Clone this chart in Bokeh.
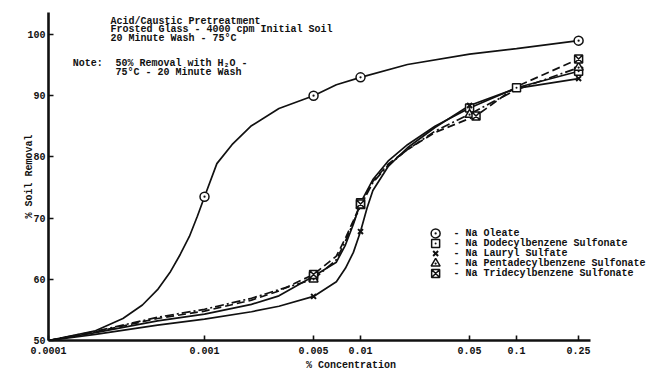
from bokeh.plotting import figure
from bokeh.models import Range1d, FixedTicker, CustomJSTickFormatter, Label
from bokeh.core.properties import value
from bokeh.embed import file_html
from bokeh.resources import INLINE

# ---------------- data ----------------
x_ticks = [0.0001, 0.001, 0.005, 0.01, 0.05, 0.1, 0.25]
x_tick_labels = ["0.0001", "0.001", "0.005", "0.01", "0.05", "0.1", "0.25"]
y_ticks = [50, 60, 70, 80, 90, 100]

series_names = [
    "Na Oleate",
    "Na Dodecylbenzene Sulfonate",
    "Na Lauryl Sulfate",
    "Na Pentadecylbenzene Sulfonate",
    "Na Tridecylbenzene Sulfonate",
]

# measured points (markers)
oleate_x = [0.001, 0.005, 0.01, 0.25]
oleate_y = [73.5, 90.0, 93.0, 99.0]
dodecyl_x = [0.005, 0.01, 0.05, 0.1, 0.25]
dodecyl_y = [60.5, 72.5, 88.0, 91.3, 94.0]
lauryl_x = [0.005, 0.01, 0.05, 0.25]
lauryl_y = [57.2, 67.8, 88.4, 92.8]
penta_x = [0.005, 0.01, 0.05, 0.25]
penta_y = [60.0, 72.0, 86.9, 94.6]
tridec_x = [0.005, 0.01, 0.055, 0.25]
tridec_y = [60.8, 72.3, 86.7, 96.0]

# hand-drawn curves
oleate_cx = [0.0001, 0.0002, 0.0003, 0.0004, 0.0005, 0.0006, 0.0007, 0.0008, 0.0009, 0.001,
             0.0012, 0.0015, 0.002, 0.003, 0.005, 0.007, 0.01, 0.02, 0.05, 0.1, 0.25]
oleate_cy = [50.0, 51.6, 53.6, 55.8, 58.3, 61.1, 64.1, 67.0, 70.3, 73.5,
             78.9, 82.0, 85.1, 87.9, 90.0, 91.8, 93.0, 95.1, 96.8, 97.7, 99.0]

dodecyl_cx = [0.0001, 0.0002, 0.0005, 0.001, 0.002, 0.003, 0.005, 0.007, 0.008, 0.009, 0.01,
              0.012, 0.015, 0.02, 0.03, 0.05, 0.1, 0.25]
dodecyl_cy = [50.0, 51.3, 53.2, 54.3, 55.9, 57.3, 60.5, 62.8, 65.6, 69.0, 72.5,
              76.3, 79.3, 82.0, 85.0, 88.0, 91.3, 94.0]

lauryl_cx = [0.0001, 0.0002, 0.0005, 0.001, 0.002, 0.003, 0.005, 0.007, 0.008, 0.009, 0.01,
             0.011, 0.012, 0.015, 0.02, 0.03, 0.05, 0.1, 0.25]
lauryl_cy = [50.0, 51.0, 52.5, 53.5, 54.7, 55.6, 57.2, 59.6, 61.8, 64.4, 67.8,
             71.6, 74.5, 78.4, 81.5, 84.8, 88.4, 91.2, 92.8]

penta_cx = [0.0001, 0.0002, 0.0005, 0.001, 0.002, 0.003, 0.005, 0.007, 0.008, 0.009, 0.01,
            0.012, 0.015, 0.02, 0.03, 0.05, 0.1, 0.25]
penta_cy = [50.0, 51.5, 53.8, 55.1, 56.9, 58.3, 60.0, 63.2, 66.2, 69.3, 72.0,
            75.8, 78.6, 81.2, 84.2, 87.0, 91.0, 94.6]

tridec_cx = [0.0001, 0.0002, 0.0005, 0.001, 0.002, 0.003, 0.005, 0.007, 0.008, 0.009, 0.01,
             0.012, 0.015, 0.02, 0.03, 0.055, 0.1, 0.25]
tridec_cy = [50.0, 51.4, 53.6, 54.8, 56.6, 58.1, 60.8, 63.8, 66.7, 69.6, 72.3,
             76.0, 78.8, 81.2, 84.0, 86.7, 91.5, 96.0]

title_lines = ["Acid/Caustic Pretreatment",
               "Frosted Glass - 4000 cpm Initial Soil",
               "20 Minute Wash - 75°C"]
note_head = "Note:"
note_lines = ["50% Removal with H₂O -", "75°C - 20 Minute Wash"]
x_title = "% Concentration"
y_title = "% Soil Removal"

# ---------------- figure ----------------
FONT = "Liberation Mono"
INK = "#111111"

p = figure(width=653, height=373, x_axis_type="log",
           x_range=Range1d(0.0001, 0.755), y_range=Range1d(50, 103.6),
           output_backend="svg", toolbar_location=None,
           min_border_left=48, min_border_right=0, min_border_top=12, min_border_bottom=33)
p.outline_line_color = None
p.xgrid.visible = False
p.ygrid.visible = False
p.background_fill_color = "white"
p.border_fill_color = "white"

for ax in (p.xaxis[0], p.yaxis[0]):
    ax.axis_line_width = 2.6
    ax.axis_line_color = INK
    ax.major_tick_in = 5
    ax.major_tick_out = 0
    ax.major_tick_line_width = 1.6
    ax.major_tick_line_color = INK
    ax.minor_tick_in = 0
    ax.minor_tick_out = 0
    ax.major_label_text_font = FONT
    ax.major_label_text_font_style = "bold"
    ax.major_label_text_font_size = "10px"
    ax.major_label_text_color = INK
    ax.axis_label_text_font = FONT
    ax.axis_label_text_font_style = "bold"
    ax.axis_label_text_font_size = "10px"
    ax.axis_label_text_color = INK

xa = p.xaxis[0]
xa.bounds = (0.0001, 0.30)
xa.ticker = FixedTicker(ticks=x_ticks, minor_ticks=[])
xa.formatter = CustomJSTickFormatter(
    args=dict(tvals=x_ticks, tlabels=x_tick_labels),
    code="""
    let best = 0, bd = 1e9;
    for (let i = 0; i < tvals.length; i++) {
        const d = Math.abs(Math.log10(tvals[i]) - Math.log10(tick));
        if (d < bd) { bd = d; best = i; }
    }
    return tlabels[best];
    """)
xa.major_label_standoff = 6
xa.axis_label = x_title
xa.axis_label_standoff = 3

ya = p.yaxis[0]
ya.ticker = FixedTicker(ticks=y_ticks, minor_ticks=[])
ya.major_label_standoff = 3
ya.axis_label = y_title
ya.axis_label_standoff = -11

# curves
lw = 1.7
p.line(oleate_cx, oleate_cy, line_color=INK, line_width=lw)
p.line(dodecyl_cx, dodecyl_cy, line_color=INK, line_width=lw)
p.line(lauryl_cx, lauryl_cy, line_color=INK, line_width=lw)
p.line(penta_cx, penta_cy, line_color=INK, line_width=lw, line_dash="9 3 2 3")
p.line(tridec_cx, tridec_cy, line_color=INK, line_width=lw, line_dash="8 4")

# markers
markers = ["circle_dot", "square_dot", "x", "triangle_dot", "square_x"]
sizes = [9, 8, 7, 9, 8]
pts = [(oleate_x, oleate_y), (dodecyl_x, dodecyl_y), (lauryl_x, lauryl_y),
       (penta_x, penta_y), (tridec_x, tridec_y)]
for (xs, ys), m, s in zip(pts, markers, sizes):
    lwm = 2 if m == "x" else 1.5
    p.scatter(xs, ys, marker=m, size=s, line_color=INK, fill_color="white", line_width=lwm)

# legend (drawn by hand, below-right of the curves)
leg_mx = 0.0303
leg_tx = 0.0394
leg_y0 = 67.5
leg_dy = 1.64
leg_rows = [leg_y0 - i * leg_dy for i in range(len(series_names))]
for i, (m, s) in enumerate(zip(markers, sizes)):
    lwm = 2 if m == "x" else 1.5
    p.scatter([leg_mx], [leg_rows[i]], marker=m, size=s, line_color=INK,
              fill_color="white", line_width=lwm)
p.text(x=[leg_tx] * len(series_names), y=leg_rows,
       text=["- " + n for n in series_names],
       text_font=value(FONT), text_font_style="bold", text_font_size="10px",
       text_color=INK, text_baseline="middle")

# texts
tkw = dict(text_font=FONT, text_font_style="bold", text_font_size="10px",
           text_color=INK, text_baseline="middle")
for i, t in enumerate(title_lines):
    p.add_layout(Label(x=0.00025, y=102.1 - 1.35 * i, text=t, **tkw))
p.add_layout(Label(x=0.000143, y=95.3, text=note_head, **tkw))
for i, t in enumerate(note_lines):
    p.add_layout(Label(x=0.000269, y=95.3 - 1.5 * i, text=t, **tkw))

open("out.html", "w").write(file_html(p, INLINE))
